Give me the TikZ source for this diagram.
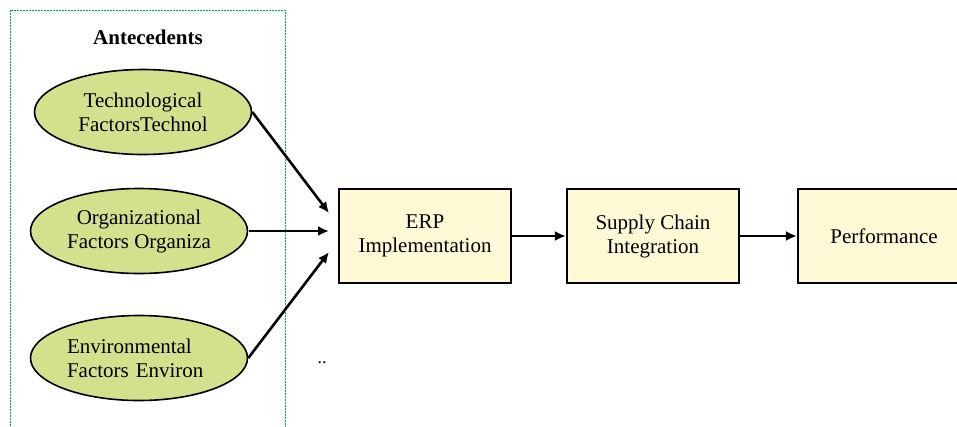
\documentclass[tikz,border=0pt]{standalone}
\usepackage{fontspec}
\setmainfont{Liberation Serif}
\usetikzlibrary{arrows.meta,shapes.geometric}
\definecolor{ellfill}{RGB}{212,224,140}
\definecolor{boxfill}{RGB}{255,249,214}
\definecolor{dashgreen}{RGB}{0,168,90}
\tikzset{
  antell/.style={ellipse,draw=black,line width=1.6pt,fill=ellfill,minimum width=217pt,minimum height=85pt,inner sep=0pt,font=\fontsize{21}{24}\selectfont},
  stagebox/.style={rectangle,draw=black,line width=2.2pt,fill=boxfill,minimum width=172pt,minimum height=94pt,inner sep=0pt,align=center,font=\fontsize{21}{24}\selectfont},
  flow/.style={line width=2.6pt,-{Latex[length=11pt,width=10pt]}}
}
\begin{document}
\begin{tikzpicture}[x=1pt,y=-1pt]
\useasboundingbox (0,0) rectangle (957,426);
\begin{scope}
\clip (0,0) rectangle (957,426);
\draw[dashgreen,line width=0.8pt,dash pattern=on 2pt off 1pt] (10,432) -- (10,10) -- (285,10) -- (285,432);
\node[stagebox] (perf) at (884,236) {Performance};
\end{scope}
\node[font=\bfseries\fontsize{21}{24}\selectfont] (ante) at (148,37) {Antecedents};
\node[antell,align=center] (tech) at (143,112) {Technological\\FactorsTechnol};
\node[antell,align=center] (org) at (139,231) {Organizational\\Factors Organiza};
\node[antell,align=left,text width=144pt] (env) at (139,358) {Environmental\\Factors Environ};
\node[stagebox] (erp) at (425,236) {ERP\\Implementation};
\node[stagebox] (sci) at (653,236) {Supply Chain\\Integration};
\coordinate (in1) at (329,213);
\coordinate (in2) at (329,231);
\coordinate (in3) at (329,252);
\draw[flow] (tech.east) -- (in1);
\draw[flow] (org.east) ++(1,0) -- (in2);
\draw[flow] (env.east) -- (in3);
\draw[flow] (erp.east) -- (sci.west);
\draw[flow] (sci.east) -- (perf.west);
\node[font=\fontsize{18}{20}\selectfont,inner sep=0pt] (dots) at (322,363) {..};
\end{tikzpicture}
\end{document}
